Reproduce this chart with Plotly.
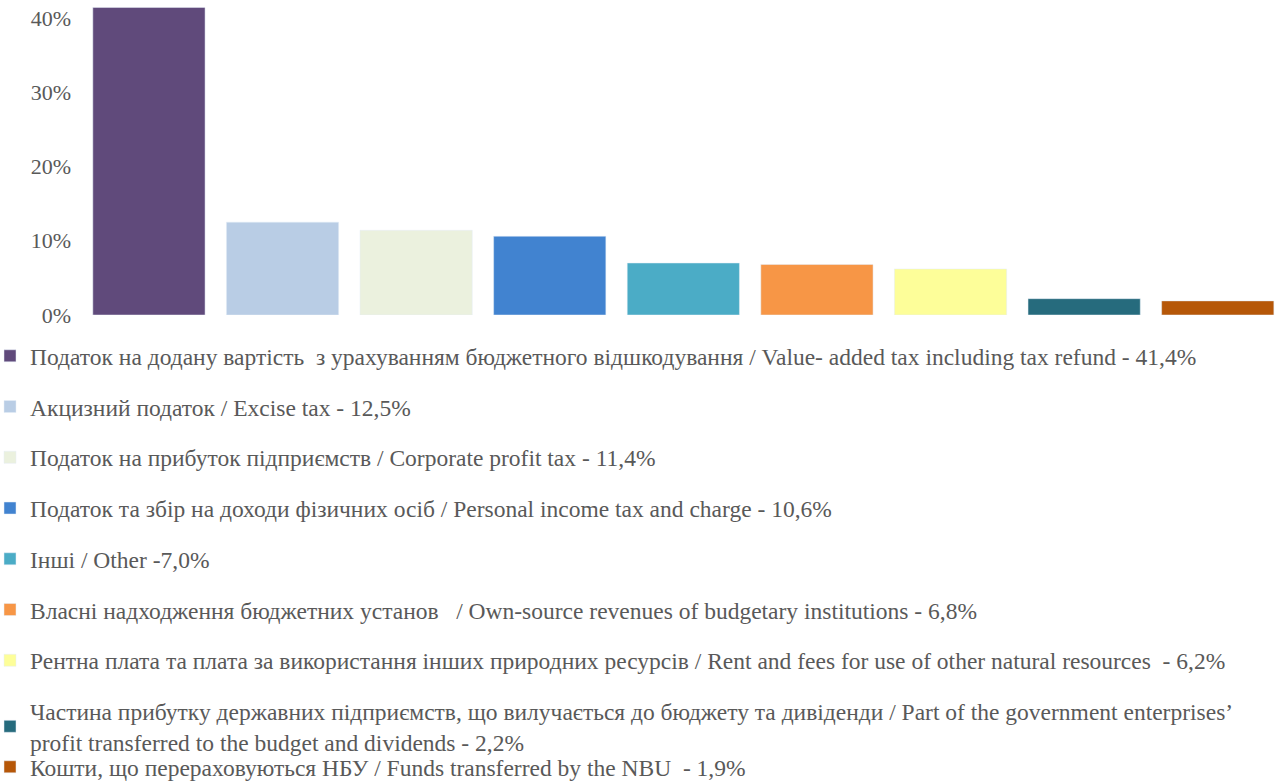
import plotly.graph_objects as go

categories = [
    "Податок на додану вартість  з урахуванням бюджетного відшкодування / Value- added tax including tax refund - 41,4%",
    "Акцизний податок / Excise tax - 12,5%",
    "Податок на прибуток підприємств / Corporate profit tax - 11,4%",
    "Податок та збір на доходи фізичних осіб / Personal income tax and charge - 10,6%",
    "Інші / Other -7,0%",
    "Власні надходження бюджетних установ   / Own-source revenues of budgetary institutions - 6,8%",
    "Рентна плата та плата за використання інших природних ресурсів / Rent and fees for use of other natural resources  - 6,2%",
    "Частина прибутку державних підприємств, що вилучається до бюджету та дивіденди / Part of the government enterprises’<br>profit transferred to the budget and dividends - 2,2%",
    "Кошти, що перераховуються НБУ / Funds transferred by the NBU  - 1,9%",
]
values = [0.414, 0.125, 0.114, 0.106, 0.070, 0.068, 0.062, 0.022, 0.019]
colors = ["#604A7B", "#B9CDE5", "#EBF1DE", "#4183D0", "#4BACC6",
          "#F79646", "#FDFE99", "#266B7D", "#B65708"]

FONT = "Liberation Serif"
GREY = "#595959"
LEG_SIZE = 23.5
LEG_X = -(80 + 10) / 1200

fig = go.Figure()
for i, (c, v, col) in enumerate(zip(categories, values, colors)):
    fig.add_trace(go.Bar(
        x=[i], y=[v], name=c, marker_color=col,
        legendgroup=f"g{i}",
        legend="legend2" if i == len(categories) - 1 else "legend",
        hovertemplate="%{y:.1%}<extra></extra>",
    ))

fig.update_layout(
    width=1280, height=781,
    margin=dict(l=80, r=0, t=3, b=466, autoexpand=False),
    plot_bgcolor="white", paper_bgcolor="white",
    barmode="relative", bargap=0.16,
    font=dict(family=FONT, color=GREY, size=20),
    showlegend=True,
    legend=dict(
        orientation="v", xref="paper", yref="container",
        x=LEG_X, y=1 - 334 / 781, xanchor="left", yanchor="top",
        font=dict(family=FONT, size=LEG_SIZE, color=GREY),
        tracegroupgap=17.2, itemwidth=30, maxheight=781,
        bgcolor="rgba(0,0,0,0)",
    ),
    legend2=dict(
        orientation="v", xref="paper", yref="container",
        x=LEG_X, y=1 - 745 / 781, xanchor="left", yanchor="top",
        font=dict(family=FONT, size=LEG_SIZE, color=GREY),
        itemwidth=30, maxheight=781, bgcolor="rgba(0,0,0,0)",
    ),
    xaxis=dict(
        range=[-0.516, 8.466], showticklabels=False, showgrid=False,
        zeroline=False, showline=False, ticks="",
    ),
    yaxis=dict(
        range=[0, 0.42], tickvals=[0, 0.1, 0.2, 0.3, 0.4], tickformat=".0%",
        showgrid=False, zeroline=False, showline=False, ticks="",
        tickfont=dict(family=FONT, size=22, color=GREY),
        ticklabelstandoff=8,
    ),
)

fig.write_html(
    "out.html",
    config={"displayModeBar": False},
    post_script="document.body.style.margin='0';",
)
